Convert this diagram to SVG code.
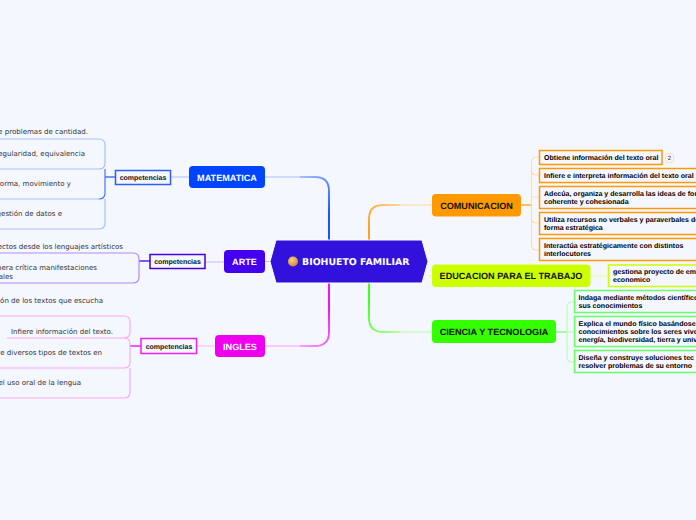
<svg xmlns="http://www.w3.org/2000/svg" width="696" height="520" viewBox="0 0 696 520">
<style>
text{text-rendering:geometricPrecision}
.bg{fill:#f5f7ff}
.main{font:bold 9.100px "Liberation Sans",Arial,sans-serif;text-anchor:middle}
.sub{font:bold 7.050px "Liberation Sans",Arial,sans-serif}
.leaf{font:7.050px "DejaVu Sans",Verdana,sans-serif;fill:#333}
.end{text-anchor:end}
.comp{font:bold 7px "Liberation Sans",Arial,sans-serif;text-anchor:middle;fill:#111}
.cbox{fill:#f5f7ff;stroke-width:1.5}
.o{fill:#f5f7ff;stroke:#ff9900;stroke-width:1.5}
.y{fill:#f5f7ff;stroke:#ccff00;stroke-width:1.5}
.g{fill:#f5f7ff;stroke:#66ff66;stroke-width:1.5}
.line{fill:none}
</style>
<defs>
<linearGradient id="gb" gradientUnits="userSpaceOnUse" x1="300" y1="177" x2="329" y2="215"><stop offset="0" stop-color="#a8bfff"/><stop offset="1" stop-color="#0044ff"/></linearGradient>
<linearGradient id="gm" gradientUnits="userSpaceOnUse" x1="300" y1="346" x2="329" y2="308"><stop offset="0" stop-color="#fa9cfa"/><stop offset="1" stop-color="#ee00ee"/></linearGradient>
<linearGradient id="go" gradientUnits="userSpaceOnUse" x1="400" y1="205" x2="369" y2="230"><stop offset="0" stop-color="#ffd699"/><stop offset="1" stop-color="#ff9900"/></linearGradient>
<linearGradient id="gg" gradientUnits="userSpaceOnUse" x1="400" y1="332" x2="369" y2="300"><stop offset="0" stop-color="#b3ffa3"/><stop offset="1" stop-color="#33ff00"/></linearGradient>
<radialGradient id="egg" cx="0.4" cy="0.35" r="0.7"><stop offset="0" stop-color="#f7d38a"/><stop offset="1" stop-color="#cf8420"/></radialGradient>
</defs>
<rect class="bg" width="696" height="520"/>

<g id="connectors" class="line">
<path d="M265 177H300" stroke="#a8bfff"/>
<path d="M300 177H315Q329 177 329 191V240" stroke="url(#gb)" stroke-width="1.800"/>
<path d="M265 346H300" stroke="#fa9cfa"/>
<path d="M300 346H315Q329 346 329 332V283" stroke="url(#gm)" stroke-width="1.800"/>
<path d="M432 205H400" stroke="#ffd699"/>
<path d="M400 205H383Q369 205 369 219V240" stroke="url(#go)" stroke-width="1.800"/>
<path d="M432 332H400" stroke="#b3ffa3"/>
<path d="M400 332H383Q369 332 369 318V283" stroke="url(#gg)" stroke-width="1.800"/>
<path d="M265 261.500H270" stroke="#c9b8ff"/>
<path d="M428 276H432" stroke="#e8ffa0"/>
<path d="M189 177H171" stroke="#b3c7ff"/>
<path d="M115 177H105" stroke="#4477ff" stroke-width="1.500"/>
<path d="M224 262H205" stroke="#c9b8ff"/>
<path d="M150 261H139" stroke="#5a22ee" stroke-width="1.500"/>
<path d="M215 346H197" stroke="#fab3fa"/>
<path d="M141 346H130" stroke="#ee22ee" stroke-width="1.500"/>
<path d="M521 205H532" stroke="#ff9900" stroke-width="1.200"/>
<path d="M539 157H537Q531.500 157 531.500 162V245Q531.500 250 537 250H539M531.500 170Q531.500 175 536 175H539M531.500 197H539M531.500 218Q531.500 223 536 223H539" stroke="#ffdca8" stroke-width="1.200"/>
<path d="M590 276H608" stroke="#e8ffa0" stroke-width="1.200"/>
<path d="M556 332H567" stroke="#66ff66" stroke-width="1.200"/>
<path d="M574 302H572Q567 302 567 307V357Q567 362 572 362H574M567 332H574" stroke="#b8ffb8" stroke-width="1.200"/>
</g>

<g id="center">
<path d="M276 240H422L428 261.500L422 283H276L270 261.500Z" fill="#3311dd" stroke="#fff"/>
<circle cx="293" cy="261.500" r="5" fill="url(#egg)"/>
<text x="302" y="265" font-family="DejaVu Sans,sans-serif" font-weight="bold" font-size="9.400" fill="#fff">BIOHUETO FAMILIAR</text>
</g>

<g id="matematica">
<rect x="189" y="166" width="76" height="22" rx="4" fill="#0044ff"/>
<text class="main" x="227" y="180.500" fill="#fff">MATEMATICA</text>
<rect class="cbox" x="115.500" y="170.500" width="55" height="14" stroke="#2a5cff"/>
<text class="comp" x="143" y="179.800">competencias</text>
<g fill="none" stroke="#a8bfff" stroke-width="1.200">
<path d="M-5 139H99Q105 139 105 145V163Q105 169 99 169H-5"/>
<path d="M99 199Q105 199 105 193V169" stroke="#4477ff"/>
<path d="M-5 199H99M105 199V223Q105 229 99 229H-5"/>
</g>
<text class="leaf end" x="88" y="134">e problemas de cantidad.</text>
<text class="leaf end" x="85" y="156">egularidad, equivalencia</text>
<text class="leaf end" x="71" y="186">orma, movimiento y</text>
<text class="leaf end" x="62" y="216">gestión de datos e</text>
</g>

<g id="arte">
<rect x="224" y="250" width="41" height="23" rx="4" fill="#4400ee"/>
<text class="main" x="244.500" y="264.500" fill="#fff">ARTE</text>
<rect class="cbox" x="150" y="254.500" width="55" height="14" stroke="#4400dd"/>
<text class="comp" x="177.500" y="264">competencias</text>
<path d="M-5 253H133Q139 253 139 259V277Q139 283 133 283H-5" fill="none" stroke="#b28cf5" stroke-width="1.200"/>
<text class="leaf end" x="123" y="249">ectos desde los lenguajes artísticos</text>
<text class="leaf end" x="97" y="270">nera crítica manifestaciones</text>
<text class="leaf end" x="13" y="279">ales</text>
<text class="leaf end" x="103" y="303">ión de los textos que escucha</text>
</g>

<g id="ingles">
<rect x="215" y="335" width="50" height="22" rx="4" fill="#ee00ee"/>
<text class="main" x="240" y="349.500" fill="#fff">INGLES</text>
<rect class="cbox" x="141" y="338.500" width="55.500" height="15" stroke="#ee22ee"/>
<text class="comp" x="169" y="348.500">competencias</text>
<g fill="none" stroke="#f8a8f8" stroke-width="1.200">
<path d="M-5 316H124Q130 316 130 322V332Q130 338 124 338H7"/>
<path d="M124 338Q130 338 130 344V362Q130 368 124 368H-5"/>
<path d="M130 368V392Q130 398 124 398H-5"/>
</g>
<text class="leaf" x="11" y="333.500">Infiere información del texto.</text>
<text class="leaf end" x="102" y="355">e diversos tipos de textos en</text>
<text class="leaf end" x="81" y="385">el uso oral de la lengua</text>
</g>

<g id="comunicacion">
<rect x="432" y="194" width="89" height="22.500" rx="4" fill="#ff9900"/>
<text class="main" x="476.500" y="208.500" fill="#111">COMUNICACION</text>
<rect class="o" x="539.500" y="150.500" width="122.500" height="14"/>
<text class="sub" x="544" y="160">Obtiene información del texto oral</text>
<rect x="665.500" y="153.500" width="8" height="9" rx="3" fill="#f5f7ff" stroke="#ffdca8"/>
<text x="669.500" y="160" font-family="Liberation Sans,sans-serif" font-size="6" text-anchor="middle" fill="#333">2</text>
<rect class="o" x="539.500" y="168.500" width="170" height="14"/>
<text class="sub" x="544" y="178">Infiere e interpreta información del texto oral</text>
<rect class="o" x="539.500" y="186.500" width="170" height="22"/>
<text class="sub" x="544" y="196">Adecúa, organiza y desarrolla las ideas de for</text>
<text class="sub" x="544" y="204">coherente y cohesionada</text>
<rect class="o" x="539.500" y="212.500" width="170" height="22"/>
<text class="sub" x="544" y="222">Utiliza recursos no verbales y paraverbales de</text>
<text class="sub" x="544" y="230">forma estratégica</text>
<rect class="o" x="539.500" y="238.500" width="170" height="22"/>
<text class="sub" x="544" y="248">Interactúa estratégicamente con distintos</text>
<text class="sub" x="544" y="256">interlocutores</text>
</g>

<g id="educacion">
<rect x="432" y="264.500" width="158.500" height="22.500" rx="4" fill="#ccff00"/>
<text class="main" x="511" y="278.500" fill="#111">EDUCACION PARA EL TRABAJO</text>
<rect class="y" x="608.500" y="265" width="100" height="21.500"/>
<text class="sub" x="613" y="274">gestiona proyecto de emp</text>
<text class="sub" x="613" y="282">economico</text>
</g>

<g id="ciencia">
<rect x="432" y="320" width="124" height="23" rx="4" fill="#33ff00"/>
<text class="main" x="494" y="334.500" fill="#111">CIENCIA Y TECNOLOGIA</text>
<rect class="g" x="574.500" y="290.500" width="135" height="22"/>
<text class="sub" x="578.500" y="300">Indaga mediante métodos científico</text>
<text class="sub" x="578.500" y="308">sus conocimientos</text>
<rect class="g" x="574.500" y="316.500" width="135" height="30"/>
<text class="sub" x="578.500" y="326">Explica el mundo físico basándose</text>
<text class="sub" x="578.500" y="334">conocimientos sobre los seres vivo</text>
<text class="sub" x="578.500" y="342">energía, biodiversidad, tierra y univ</text>
<rect class="g" x="574.500" y="350.500" width="135" height="22"/>
<text class="sub" x="578.500" y="360">Diseña y construye soluciones tec</text>
<text class="sub" x="578.500" y="368">resolver problemas de su entorno</text>
</g>
</svg>
